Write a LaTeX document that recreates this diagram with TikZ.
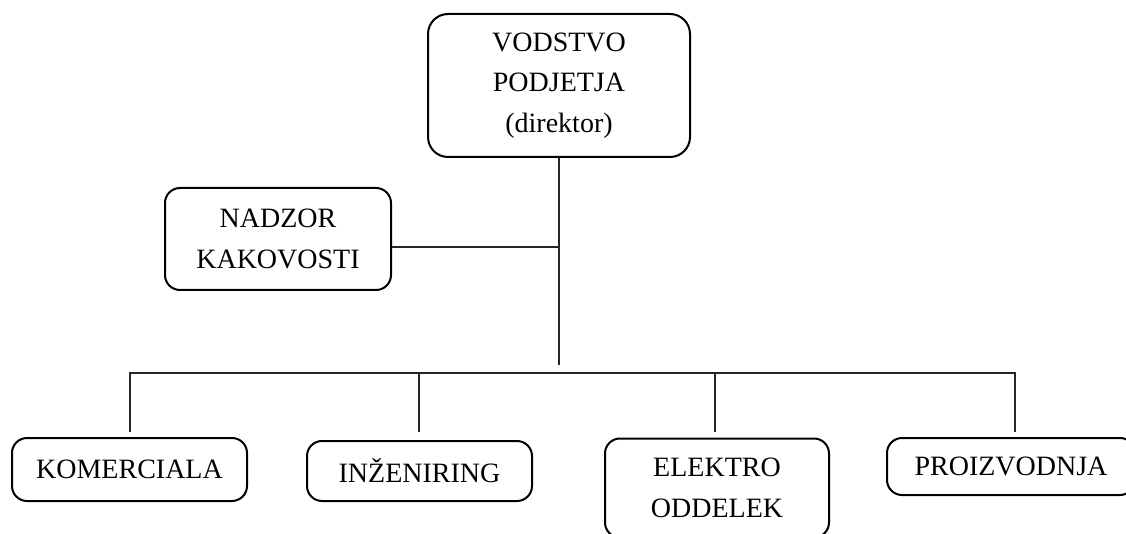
\documentclass[tikz,border=0pt]{standalone}
\usepackage{fontspec}
\setmainfont{Liberation Serif}
\begin{document}
\begin{tikzpicture}[x=1pt,y=-1pt,
  box/.style={draw=black, line width=2pt, rounded corners=15pt, align=center,
    inner sep=0pt, font=\fontsize{28}{40.5}\selectfont},
  conn/.style={draw=black!85, line width=1.2pt}]
\useasboundingbox (0,0) rectangle (1126,534);
\begin{scope}
\clip (0,0) rectangle (1126,534);
\node[box, rounded corners=20pt, minimum width=262pt, minimum height=143pt] (top) at (559,85.5) {VODSTVO\\PODJETJA\\(direktor)};
\node[box, minimum width=226pt, minimum height=102pt] (nad) at (278,239) {NADZOR\\KAKOVOSTI};
\node[box, minimum width=235pt, minimum height=63pt] (kom) at (129.5,469.5) {KOMERCIALA};
\node[box, minimum width=225pt, minimum height=60pt] (inz) at (419.5,471) {INŽENIRING};
\node[box, minimum width=224pt, minimum height=99pt] (ele) at (717,488) {ELEKTRO\\ODDELEK};
\node[box, minimum width=248pt, minimum height=57pt] (pro) at (1011,466.5) {PROIZVODNJA};
\end{scope}
\coordinate (trunkend) at (559,365);
\coordinate (nadj) at (559,247);
\coordinate (busL) at (130,373);
\coordinate (busR) at (1015,373);
\coordinate (b2) at (419,373);
\coordinate (b3) at (715,373);
\coordinate (d1) at (130,432);
\coordinate (d2) at (419,432);
\coordinate (d3) at (715,432);
\coordinate (d4) at (1015,432);
\draw[conn] (top.south) -- (trunkend);
\draw[conn] (nad.east |- nadj) -- (nadj);
\draw[conn] (d1) -- (busL) -- (busR) -- (d4);
\draw[conn] (b2) -- (d2);
\draw[conn] (b3) -- (d3);
\end{tikzpicture}
\end{document}
